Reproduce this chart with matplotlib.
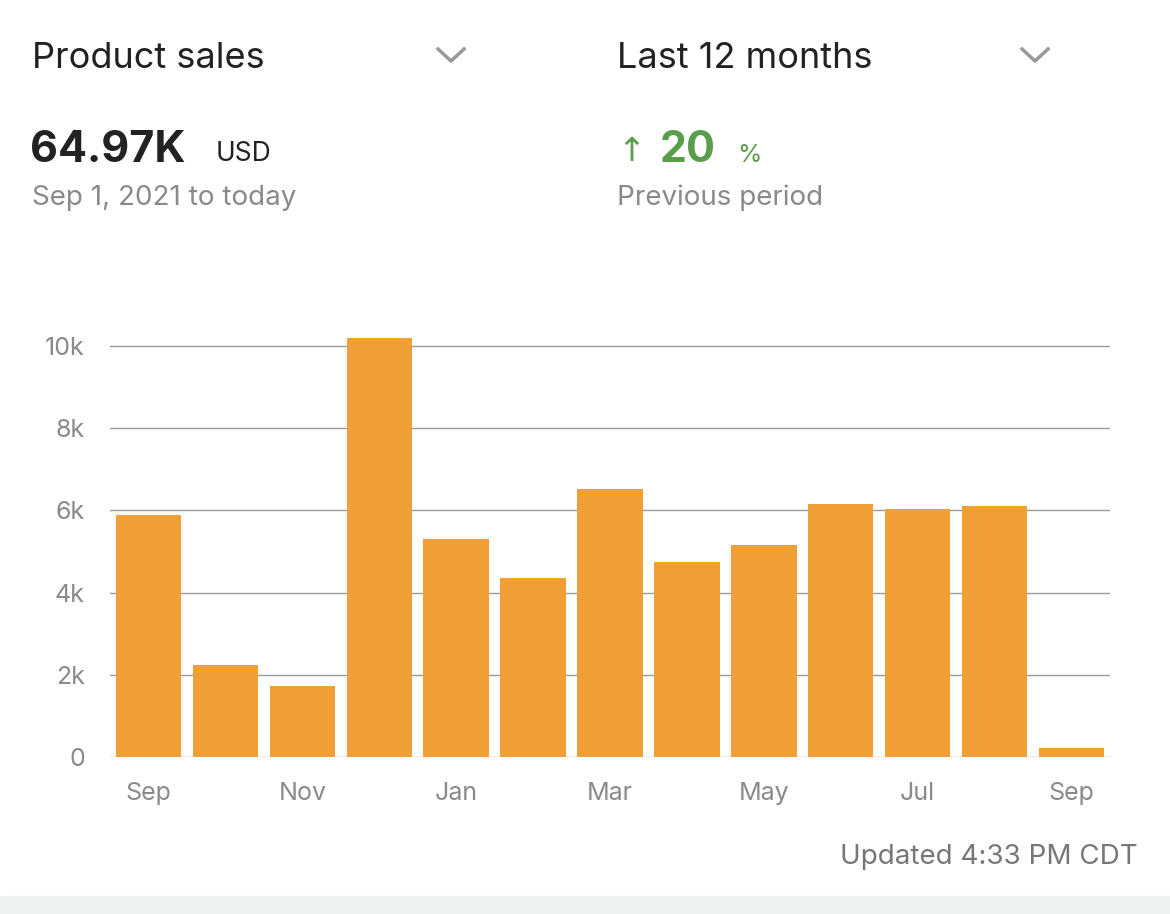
import matplotlib.pyplot as plt
from matplotlib.lines import Line2D

plt.rcParams['font.family'] = ['Inter', 'DejaVu Sans']

months = ['Sep', 'Oct', 'Nov', 'Dec', 'Jan', 'Feb', 'Mar', 'Apr', 'May', 'Jun', 'Jul', 'Aug', 'Sep']
sales = [5890, 2240, 1730, 10190, 5300, 4360, 6520, 4740, 5160, 6160, 6030, 6110, 220]
yticks = [0, 2000, 4000, 6000, 8000, 10000]
ylabels = ['0', '2k', '4k', '6k', '8k', '10k']

W, H = 1170, 914
fig = plt.figure(figsize=(W/100, H/100), dpi=100)

def px(x, y):
    return x / W, 1 - y / H

ax = fig.add_axes([110/W, (H-757)/H, 1000/W, (757-325.5)/H])
x = list(range(len(months)))
ax.bar(x, sales, width=0.85, color='#f09f37', zorder=3)
ax.set_xlim(-0.5, len(months) - 0.5)
ax.set_ylim(0, 10500)
ax.set_yticks(yticks)
ax.set_yticklabels(ylabels)
ax.set_xticks(x[::2])
ax.set_xticklabels(months[::2])
ax.grid(axis='y', color='#9a9a9a', linewidth=1, zorder=0)
for s in ax.spines.values():
    s.set_visible(False)
ax.tick_params(length=0, labelsize=18, colors='#8a8a8a', pad=18)
ax.tick_params(axis='y', pad=18)

# header
fig.text(*px(32, 58), 'Product sales', fontsize=26, color='#222222', va='center')
fig.text(*px(617, 58), 'Last 12 months', fontsize=26, color='#222222', va='center')
for cx in (451, 1035):
    fig.add_artist(Line2D([(cx-13)/W, cx/W, (cx+13)/W],
                          [1-49/H, 1-61/H, 1-49/H], color='#999999', lw=2.5))
fig.text(*px(30, 150), '64.97K', fontsize=31, fontweight='bold', color='#222222', va='center')
fig.text(*px(216, 154), 'USD', fontsize=19, color='#222222', va='center')
fig.text(*px(32, 198), 'Sep 1, 2021 to today', fontsize=20, color='#8a8a8a', va='center')
fig.text(*px(617, 152), '↑', fontsize=24, color='#5a9e4b', va='center', family='DejaVu Sans')
fig.text(*px(660, 150), '20', fontsize=31, fontweight='bold', color='#5a9e4b', va='center')
fig.text(*px(737, 155), '%', fontsize=18, color='#5a9e4b', va='center')
fig.text(*px(617, 198), 'Previous period', fontsize=20, color='#8a8a8a', va='center')
fig.text(*px(1138, 857), 'Updated 4:33 PM CDT', fontsize=20, color='#777777', va='center', ha='right')

fig.patches.append(plt.Rectangle((0, 0), 1, 18/H, transform=fig.transFigure,
                                 color='#f0f1f1', zorder=0))

fig.savefig('out.png', dpi=100)
